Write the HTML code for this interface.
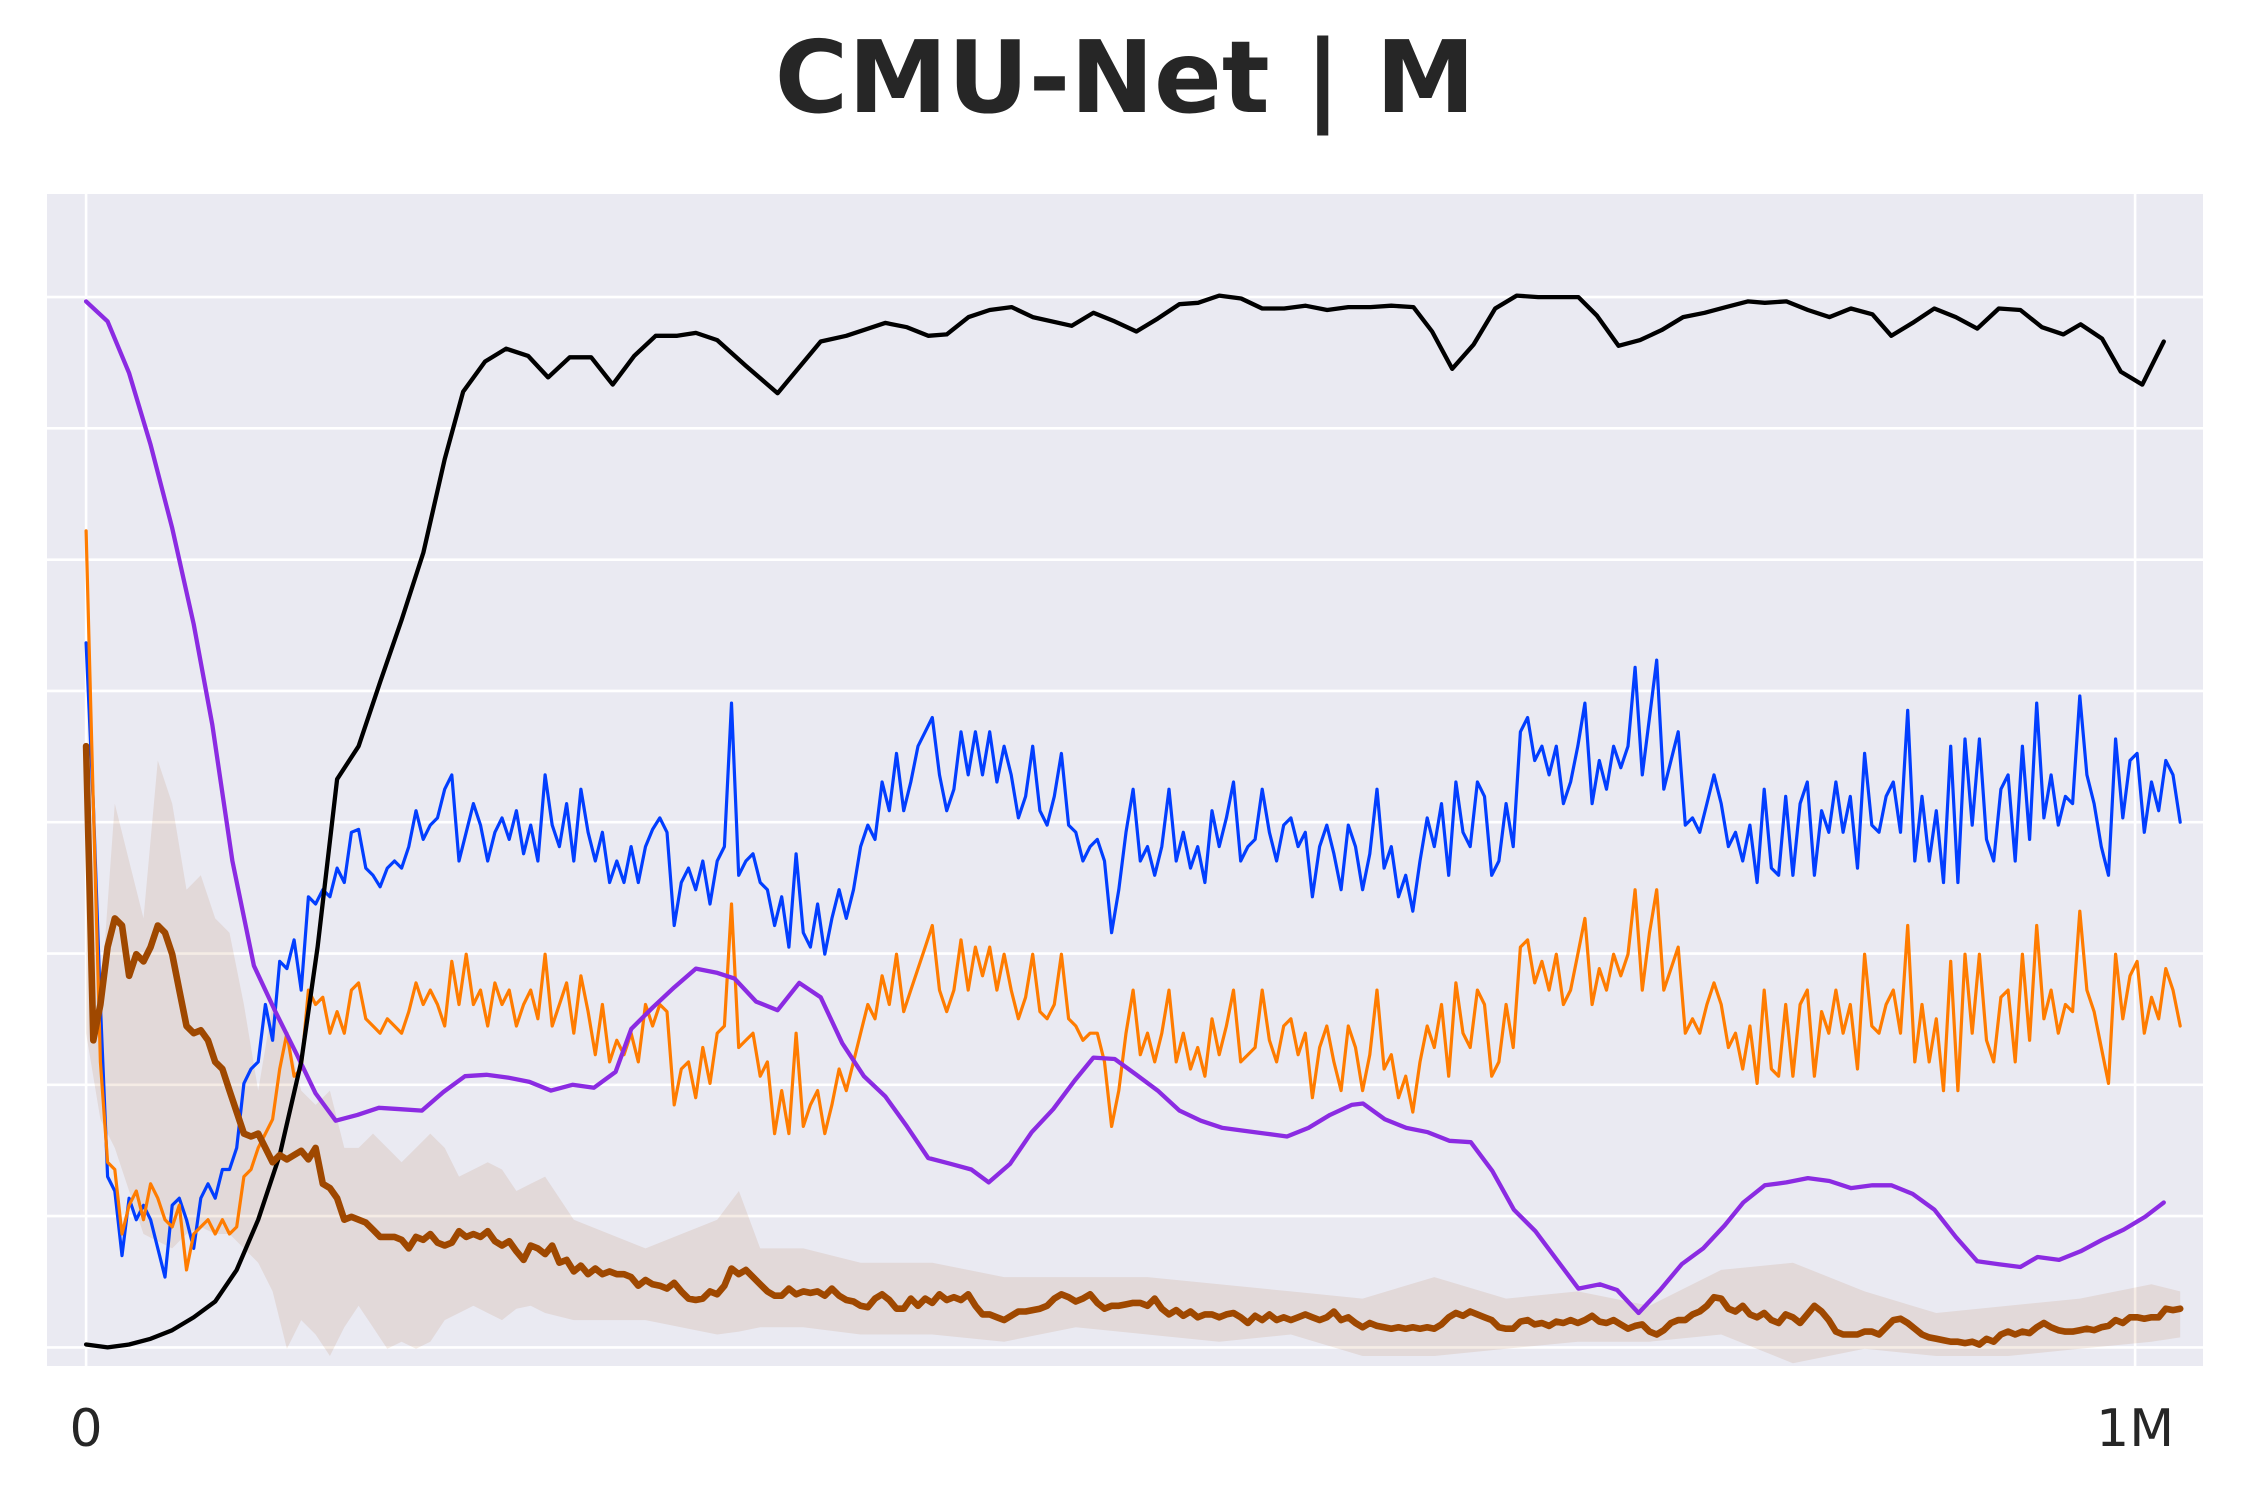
<!DOCTYPE html>
<html><head><meta charset="utf-8"><style>
html,body{margin:0;padding:0;background:#fff;}
svg{display:block;}
</style></head><body>
<svg id="chart" width="2250" height="1500" viewBox="0 0 2250 1500" xmlns="http://www.w3.org/2000/svg">
<text x="1125" y="112" text-anchor="middle" font-family="DejaVu Sans, Liberation Sans, sans-serif" font-weight="bold" font-size="100" fill="#262626">CMU-Net | M</text>
<rect x="47" y="194" width="2156" height="1172" fill="#eaeaf2"/>
<g id="grid"></g>
<g id="marks"></g>
<g id="ticks"></g>
</svg>
<script>
const xTickValues = [0, 1000];
const xTickLabels = ["0", "1M"];
const yGridValues = [0, 91.5, 183, 274.5, 366, 457.5, 549, 640.5, 732];
const sampleStep = 3.5; // thousand steps between samples for noisy series

const blackX = [0,10.5,21,31.5,42,52.5,63,73.5,84,94.5,105,113,122.5,133,143.6,154,164.6,175,184,194.7,205,215.7,225.5,236,246.5,257,267.5,278,288.5,297.6,308,322,337.5,358.5,371,379.5,390,400.6,411,420,430.7,441,451.7,462,481,491.6,502,512.6,523,533.6,542.7,553,563.7,574,584.7,595,605.7,616,626.8,637,647.8,656.9,666.7,677.2,687.7,698.2,708.7,717.8,728.3,737.4,747.9,758.4,768.9,779.4,789.9,800.4,811,819.3,829.8,840.3,850.8,861.3,871.8,881,891.4,902,912.5,923,933.5,944,954.5,965,973.4,983.9,993,1003.5,1014];
const blackY = [2,0,2,6,12,21,32,54,89,134,199,279,396,419,464,507,554,619,666,687,696,691,676,690,690,671,691,705,705,707,702,684,665,701,705,709,714,711,705,706,718,723,725,718,712,721,715,708,717,727,728,733,731,724,724,726,723,725,725,726,725,708,682,699,724,733,732,732,732,719,698,702,709,718,721,725,729,728,729,723,718,724,720,705,714,724,718,710,724,723,711,706,713,703,680,671,701];

const purpleX = [0,10.5,21,31.5,42,52.5,61.6,71.4,81.9,92.4,102.9,112,121.8,132.4,142.9,153.4,163.9,174.4,184.9,195.4,205.9,216.4,226.9,237.4,247.9,258.4,266.1,276.6,287.1,297.6,308.1,316.5,327,337.5,348,358.5,369,379.6,390,400.6,411,421.6,432,440.5,451,461.5,472,482.5,491.6,502,512.6,523,533.6,544,554.6,565,575.6,586.1,596.6,607.1,617.6,623.2,633.8,644.3,654.8,665.3,675.8,686.3,696.8,707.3,717.8,728.3,738.8,747.2,757.7,768.2,778.7,789.2,799.7,808.8,819.3,829.8,840.3,850.8,861.3,871.8,881,891.4,902,912.5,923,933.5,944,952.4,962.9,973.4,983.9,994.4,1004.9,1014];
const purpleY = [729,715,679,629,571,504,434,339,266,234,204,177,158,162,167,166,165,178,189,190,188,185,179,183,181,192,222,237,251,264,261,257,241,235,254,244,212,189,175,154,132,128,124,115,128,150,166,186,202,201,190,179,165,158,153,151,149,147,153,162,169,170,159,153,150,144,143,123,96,81,61,41,44,40,24,40,58,69,85,101,113,115,118,116,111,113,113,107,96,77,60,58,56,63,61,67,75,82,91,101];

const blueY = [491,379,239,119,109,64,104,89,99,89,69,49,99,104,89,69,104,114,104,124,124,139,184,194,199,239,214,269,264,284,249,314,309,319,314,334,324,359,361,334,329,321,334,339,334,349,374,354,364,369,389,399,339,359,379,364,339,359,369,354,374,344,364,339,399,364,349,379,339,389,359,339,359,324,339,324,349,324,349,361,369,359,294,324,334,319,339,309,339,349,449,329,339,344,324,319,294,314,279,344,289,279,309,274,299,319,299,319,349,364,354,394,374,414,374,394,419,429,439,399,374,389,429,399,429,399,429,394,419,399,369,384,419,374,364,384,414,364,359,339,349,354,339,289,319,359,389,339,349,329,349,389,339,359,334,349,324,374,349,369,394,339,349,354,389,359,339,364,369,349,359,314,349,364,344,319,364,349,319,344,389,334,349,314,329,304,339,369,349,379,329,394,359,349,394,384,329,339,379,349,429,439,409,419,399,419,379,394,419,449,379,409,389,419,404,419,474,399,439,479,389,409,429,364,369,359,379,399,379,349,359,339,364,324,389,334,329,384,329,379,394,329,374,359,394,359,384,334,414,364,359,384,394,359,444,339,384,339,374,324,419,324,424,364,424,354,339,389,399,339,419,354,449,369,399,364,384,379,454,399,379,349,329,424,369,409,414,359,394,374,409,399,366];

const orangeY = [569,379,199,129,124,79,99,109,89,114,104,89,84,99,54,79,84,89,79,89,79,84,119,124,139,149,159,194,219,189,194,249,239,244,219,234,219,249,254,229,224,219,229,224,219,234,254,239,249,239,224,269,239,274,239,249,224,254,239,249,224,239,249,229,274,224,239,254,219,259,234,204,239,199,214,204,219,199,239,224,239,234,169,194,199,174,209,184,219,224,309,209,214,219,189,199,149,179,149,219,154,169,179,149,169,194,179,199,219,239,229,259,239,274,234,249,264,279,294,249,234,249,284,249,279,259,279,249,274,249,229,244,274,234,229,239,274,229,224,214,219,219,199,154,179,219,249,204,219,199,219,249,199,219,194,209,189,229,204,224,249,199,204,209,249,214,199,224,229,204,219,174,209,224,199,179,224,209,179,204,249,194,204,174,189,164,199,224,209,239,189,254,219,209,249,239,189,199,239,209,279,284,254,269,249,274,239,249,274,299,239,264,249,274,259,274,319,249,289,319,249,264,279,219,229,219,239,254,239,209,219,194,224,184,249,194,189,239,189,239,249,189,234,219,249,219,239,194,274,224,219,239,249,219,294,199,239,199,229,179,269,179,274,219,274,214,199,244,249,199,274,214,294,229,249,219,239,234,304,249,234,209,184,274,229,259,269,219,244,229,264,249,224];

const brownY = [419,214,239,279,299,294,259,274,269,279,294,289,274,249,224,219,221,214,199,194,179,164,149,147,149,139,129,134,131,134,137,131,139,114,111,104,89,91,89,87,82,77,77,77,75,69,77,75,79,73,71,73,81,77,79,77,81,74,71,74,67,61,71,69,65,71,59,61,53,57,51,55,51,53,51,51,49,43,47,44,43,41,45,39,34,33,34,39,37,43,55,51,54,49,44,39,36,36,41,37,39,38,39,36,41,36,33,32,29,28,34,37,33,27,27,34,29,34,31,37,33,35,33,37,29,23,23,21,19,22,25,25,26,27,29,34,37,35,32,34,37,31,27,29,29,30,31,31,29,34,27,23,26,22,25,21,23,23,21,23,24,21,17,22,19,23,19,21,19,21,23,21,19,21,25,19,21,17,14,17,15,14,13,14,13,14,13,14,13,16,21,24,22,25,23,21,19,14,13,13,18,19,16,17,15,18,17,19,17,19,22,18,17,19,16,13,15,16,11,9,12,17,19,19,23,25,29,35,34,27,25,29,23,21,24,19,17,23,21,17,23,29,25,19,11,9,9,9,11,11,9,14,19,20,17,13,9,7,6,5,4,4,3,4,2,6,4,9,11,9,11,10,14,17,14,12,11,11,12,13,12,14,15,19,17,21,21,20,21,21,27,26,27];

const bandX = [0,7,14,21,28,35,42,49,56,63,70,77,84,91,98,105,112,119,126,133,140,147,154,161,168,175,182,189,196,203,210,217,224,238,273,308,318.6,329,350,378,413,448,483,518,553,588,623,658,693,728,763,798,833,868,903,938,973,1008,1022];
const bandUpper = [419,239,379,339,299,409,379,319,329,299,289,239,179,239,219,179,169,179,139,139,149,139,129,139,149,139,119,124,129,124,109,114,119,89,69,89,109,69,69,59,59,49,49,49,44,39,34,49,34,39,29,54,59,39,24,29,34,44,39];
const bandLower = [219,159,139,109,79,74,69,79,84,79,79,69,59,39,-1,19,9,-6,14,29,14,-1,4,-1,4,19,24,29,24,19,27,29,24,19,19,9,11,14,14,9,9,4,14,9,4,9,-6,-6,-1,4,4,9,-11,-1,-6,-6,-1,4,7];

const SVGNS = "http://www.w3.org/2000/svg";
function xScale(k){ return 86.1 + k * 2.049; }
function yScale(v){ return 1347.4 - v * 1.4349; }

const grid = document.getElementById('grid');
yGridValues.forEach(function(v, i){
  const l = document.createElementNS(SVGNS, 'line');
  l.setAttribute('x1', 47); l.setAttribute('x2', 2203);
  l.setAttribute('y1', yScale(v)); l.setAttribute('y2', yScale(v));
  l.setAttribute('stroke', '#ffffff'); l.setAttribute('stroke-width', 2.6);
  
  
  grid.appendChild(l);
});
xTickValues.forEach(function(v){
  const l = document.createElementNS(SVGNS, 'line');
  l.setAttribute('y1', 194); l.setAttribute('y2', 1366);
  l.setAttribute('x1', xScale(v)); l.setAttribute('x2', xScale(v));
  l.setAttribute('stroke', '#ffffff'); l.setAttribute('stroke-width', 2.6);
  
  
  grid.appendChild(l);
});

const ticks = document.getElementById('ticks');
xTickValues.forEach(function(v, i){
  const t = document.createElementNS(SVGNS, 'text');
  t.setAttribute('x', xScale(v)); t.setAttribute('y', 1446);
  t.setAttribute('text-anchor', 'middle');
  t.setAttribute('font-family', 'DejaVu Sans, Liberation Sans, sans-serif');
  t.setAttribute('font-size', '52');
  t.setAttribute('fill', '#262626');
  t.textContent = xTickLabels[i];
  
  
  ticks.appendChild(t);
});

const marks = document.getElementById('marks');
function pathFrom(xs, ys){
  let d = '';
  for (let i = 0; i < ys.length; i++){
    d += (i ? 'L' : 'M') + xScale(xs[i]).toFixed(1) + ',' + yScale(ys[i]).toFixed(1);
  }
  return d;
}
function idxX(ys){ return ys.map(function(_, i){ return i * sampleStep; }); }
function addLine(xs, ys, color, w, name){
  const p = document.createElementNS(SVGNS, 'path');
  p.setAttribute('d', pathFrom(xs, ys));
  p.setAttribute('fill', 'none');
  p.setAttribute('stroke', color);
  p.setAttribute('stroke-width', w);
  p.setAttribute('stroke-linejoin', 'round');
  p.setAttribute('stroke-linecap', 'round');
  
  
  marks.appendChild(p);
}

// band
(function(){
  let d = '';
  for (let i = 0; i < bandX.length; i++) d += (i ? 'L' : 'M') + xScale(bandX[i]).toFixed(1) + ',' + yScale(bandUpper[i]).toFixed(1);
  for (let i = bandX.length - 1; i >= 0; i--) d += 'L' + xScale(bandX[i]).toFixed(1) + ',' + yScale(bandLower[i]).toFixed(1);
  d += 'Z';
  const p = document.createElementNS(SVGNS, 'path');
  p.setAttribute('d', d);
  p.setAttribute('fill', '#9f4800');
  p.setAttribute('fill-opacity', '0.1');
  
  
  marks.appendChild(p);
})();

addLine(idxX(blueY), blueY, '#023eff', 3.2, 'blue-series');
addLine(idxX(orangeY), orangeY, '#ff7c00', 3.2, 'orange-series');
addLine(purpleX, purpleY, '#8b2be2', 4.3, 'purple-series');
addLine(blackX, blackY, '#000000', 4.3, 'black-series');
addLine(idxX(brownY), brownY, '#9f4800', 6.6, 'brown-series');
</script>
</body></html>
